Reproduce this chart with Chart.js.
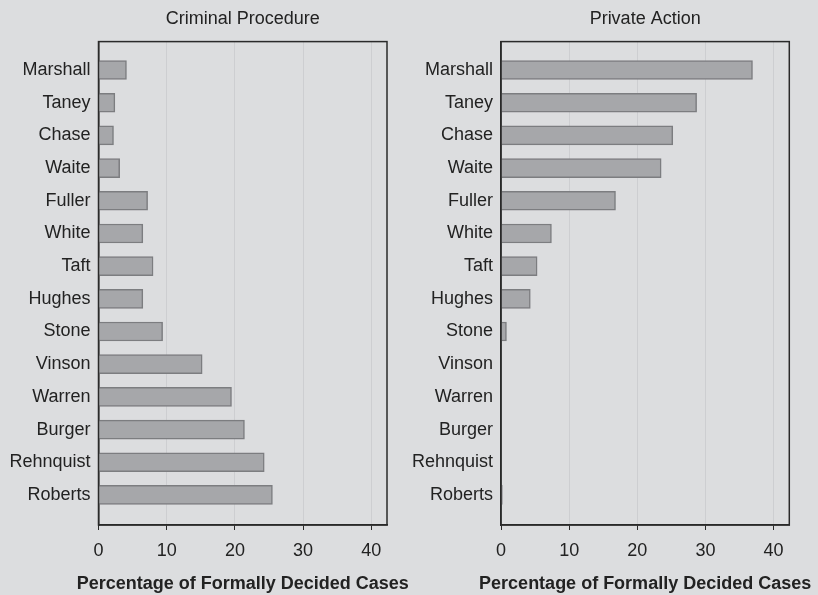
<!DOCTYPE html>
<html>
<head>
<meta charset="utf-8">
<script src="https://cdn.jsdelivr.net/npm/chart.js@4"></script>
<style>
  body { margin: 0; background: #dcdddf; }
  #wrap { position: relative; width: 818px; height: 595px; }
  canvas { position: absolute; top: 0; }
</style>
</head>
<body>
<div id="wrap">
  <canvas id="left" width="420" height="595" style="left:0"></canvas>
  <canvas id="right" width="418" height="595" style="left:400px"></canvas>
</div>
<script>
// Chief Justice eras, top to bottom
let justices = ["Marshall", "Taney", "Chase", "Waite", "Fuller", "White", "Taft",
                "Hughes", "Stone", "Vinson", "Warren", "Burger", "Rehnquist", "Roberts"];

// percentage of formally decided cases
let criminalProcedure = [4.1, 2.4, 2.2, 3.1, 7.2, 6.5, 8.0, 6.5, 9.4, 15.2, 19.5, 21.4, 24.3, 25.5];
let privateAction = [36.9, 28.7, 25.2, 23.5, 16.8, 7.4, 5.3, 4.3, 0.8, 0, 0, 0, 0, 0.2];

let xTicks = [0, 10, 20, 30, 40];
let axisTitle = "Percentage of Formally Decided Cases";

Chart.defaults.font.family = "'Liberation Sans', Arial, sans-serif";
Chart.defaults.color = "#222";

// box around the plot area + bottom axis title (drawn here so it is not squeezed to the axis width)
let framePlugin = {
    id: 'frame',
    afterDraw(chart) {
        let a = chart.chartArea, ctx = chart.ctx;
        ctx.save();
        ctx.strokeStyle = '#2a2a2a';
        ctx.lineWidth = 1.5;
        ctx.strokeRect(a.left, a.top, a.right - a.left, a.bottom - a.top);
        ctx.fillStyle = '#222';
        ctx.font = "bold 18px 'Liberation Sans', Arial, sans-serif";
        ctx.textAlign = 'center';
        ctx.textBaseline = 'middle';
        ctx.fillText(axisTitle, (a.left + a.right) / 2, chart.height - 11);
        ctx.restore();
    }
};

function makePanel(id, title, values, yWidth, padRight) {
    let points = values.map((v, i) => ({ x: v, y: i + 1 }));
    return new Chart(document.getElementById(id), {
        type: 'bar',
        data: {
            datasets: [{
                data: points,
                backgroundColor: '#a6a7aa',
                borderColor: '#7c7d80',
                borderWidth: 1.5,
                barThickness: 19
            }]
        },
        options: {
            indexAxis: 'y',
            responsive: false,
            animation: false,
            layout: { padding: { left: 0, right: padRight, top: 0, bottom: 0 } },
            plugins: {
                legend: { display: false },
                tooltip: { enabled: false },
                title: {
                    display: true,
                    text: title,
                    fullSize: false,
                    color: '#222',
                    font: { size: 18, weight: 'normal' },
                    padding: { top: 8, bottom: 12 }
                }
            },
            scales: {
                x: {
                    type: 'linear',
                    min: 0,
                    max: 42.3,
                    afterBuildTicks: s => { s.ticks = xTicks.map(v => ({ value: v })); },
                    afterFit: s => { s.height = 70; },
                    grid: { color: '#cdced1', lineWidth: 1, tickLength: 5, tickColor: '#2a2a2a' },
                    border: { color: '#2a2a2a', width: 1.5 },
                    ticks: { font: { size: 18 }, padding: 10, color: '#222' }
                },
                y: {
                    type: 'linear',
                    reverse: true,
                    offset: false,
                    min: 0.13,
                    max: 14.92,
                    afterBuildTicks: s => { s.ticks = justices.map((n, i) => ({ value: i + 1 })); },
                    afterFit: s => { s.width = yWidth; },
                    grid: { display: false, drawTicks: false },
                    border: { color: '#2a2a2a', width: 1.5 },
                    ticks: {
                        font: { size: 18 },
                        padding: 8,
                        color: '#222',
                        callback: v => justices[v - 1] || ''
                    }
                }
            }
        },
        plugins: [framePlugin]
    });
}

makePanel('left', 'Criminal Procedure', criminalProcedure, 98.5, 33);
makePanel('right', 'Private Action', privateAction, 101, 28.7);
</script>
</body>
</html>
